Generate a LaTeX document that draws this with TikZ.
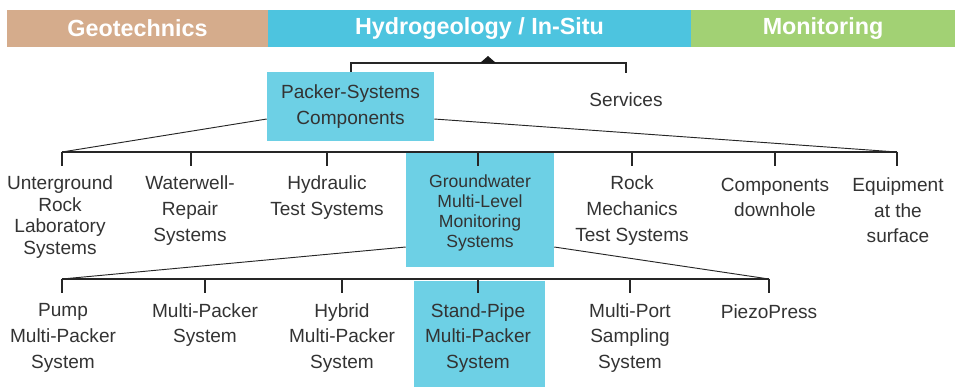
\documentclass[tikz,border=0pt]{standalone}
\usepackage{fontspec}
\setmainfont{Liberation Sans}
\usetikzlibrary{calc}
\definecolor{geo}{RGB}{213,172,140}
\definecolor{hyd}{RGB}{77,196,223}
\definecolor{mon}{RGB}{162,209,116}
\definecolor{boxc}{RGB}{109,208,229}
\definecolor{txt}{RGB}{51,51,51}
\begin{document}
\begin{tikzpicture}[x=0.75pt,y=-0.75pt,
  hdr/.style={draw=none,inner sep=0pt,minimum height=27.75pt,text=white,font=\bfseries\fontsize{17.5}{20}\selectfont},
  lbl/.style={inner sep=0pt,align=center,text=txt,font=\fontsize{14.3}{19.2}\selectfont},
  lbltight/.style={inner sep=0pt,align=center,text=txt,font=\fontsize{14.3}{16.2}\selectfont},
  cbox/.style={fill=boxc,draw=none,inner sep=0pt,align=center,text=txt},
  bar/.style={line width=1.5pt,draw=black!85},
  diag/.style={line width=0.7pt,draw=black!85}
]
\useasboundingbox (0,0) rectangle (960,387);
% header
\node[hdr,fill=geo,minimum width=195.75pt] (geo) at (137.5,28.5) {Geotechnics};
\node[hdr,fill=hyd,minimum width=317.25pt] (hyd) at (479.5,28.5) {Hydrogeology / In-Situ};
\node[hdr,fill=mon,minimum width=198pt] (mon) at (823,28.5) {Monitoring};
% level 0
\node[cbox,minimum width=125.25pt,minimum height=51.75pt,font=\fontsize{14.3}{19.5}\selectfont] (pk) at (350.5,106.5) {Packer-Systems\\Components};
\node[lbl] (srv) at (626,100) {Services};
\coordinate (srvtop) at (626,73);
\draw[bar] (pk.north) -- ++(0,-9) -| (srvtop);
\fill[black!90] (480,63) -- (488,56) -- (496,63) -- cycle;
% level 1
\node[cbox,minimum width=111pt,minimum height=85.5pt] (gw) at (480,210) {};
\node[lbl,font=\fontsize{13.2}{15}\selectfont] (gwt) at (480,212.5) {Groundwater\\Multi-Level\\Monitoring\\Systems};
\node[lbltight] (url) at (60,217) {Unterground\\Rock\\Laboratory\\Systems};
\node[lbl] (wwr) at (190,210.5) {Waterwell-\\Repair\\Systems};
\node[lbl] (hts) at (327,197.5) {Hydraulic\\Test Systems};
\node[lbl] (rmt) at (632,210.5) {Rock\\Mechanics\\Test Systems};
\node[lbl] (cdh) at (775,197.5) {Components\\downhole};
\node[lbl] (eas) at (898,210.5) {Equipment\\at the\\surface};
\coordinate (b1L) at (62,152);
\coordinate (b1R) at (897,152);
\draw[diag] ($(pk.west)+(0,12.5)$) -- (b1L);
\draw[diag] ($(pk.east)+(0,12.5)$) -- (b1R);
\draw[bar] (b1L) -- (b1R);
\foreach \t in {62,191,327,478,632,775,897} {
  \coordinate (t1-\t) at (\t,152);
  \draw[bar] (t1-\t) -- ++(0,14);
}
% level 2
\node[cbox,minimum width=98.25pt,minimum height=79.5pt] (sp) at (479.5,334) {};
\node[lbl,font=\fontsize{14.3}{19.3}\selectfont] (spt) at (478,338) {Stand-Pipe\\Multi-Packer\\System};
\node[lbl,font=\fontsize{14.3}{19.3}\selectfont] (pmp) at (63,338) {Pump\\Multi-Packer\\System};
\node[lbl,font=\fontsize{14.3}{19.3}\selectfont] (mps) at (205,325) {Multi-Packer\\System};
\node[lbl,font=\fontsize{14.3}{19.3}\selectfont] (hyb) at (342,338) {Hybrid\\Multi-Packer\\System};
\node[lbl,font=\fontsize{14.3}{19.3}\selectfont] (mpt) at (630,338) {Multi-Port\\Sampling\\System};
\node[lbl,font=\fontsize{14.3}{19.3}\selectfont] (pzp) at (769,312) {PiezoPress};
\coordinate (b2L) at (62,279);
\coordinate (b2R) at (769,279);
\draw[diag] ($(gw.west)+(0,37)$) -- (b2L);
\draw[diag] ($(gw.east)+(0,37)$) -- (b2R);
\draw[bar] (b2L) -- (b2R);
\foreach \t in {62,205,342,478,630,769} {
  \coordinate (t2-\t) at (\t,279);
  \draw[bar] (t2-\t) -- ++(0,14);
}
\end{tikzpicture}
\end{document}
